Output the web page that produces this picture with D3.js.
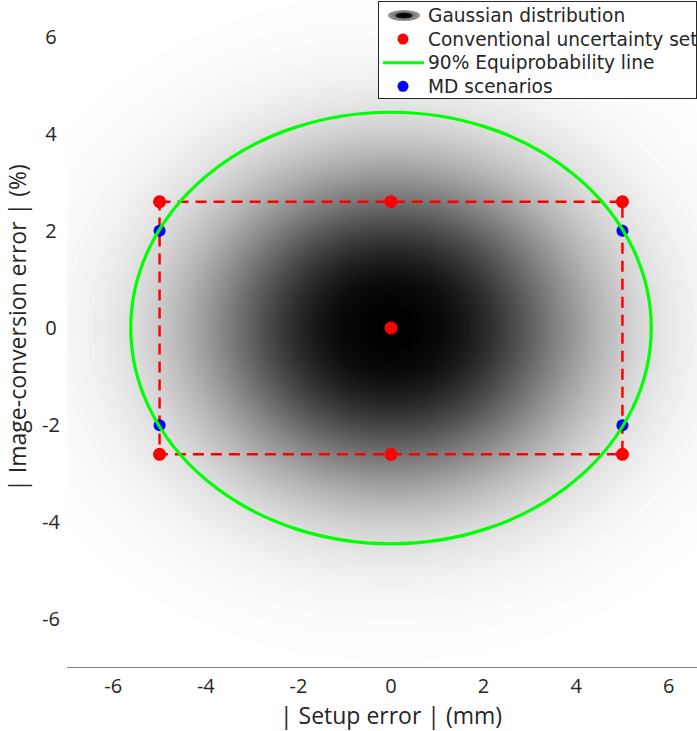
<!DOCTYPE html>
<html>
<head>
<meta charset="utf-8">
<script src="https://d3js.org/d3.v7.min.js"></script>
<style>
  body { margin: 0; background: #fff; }
  text { fill: #262626; }
</style>
</head>
<body>
<div id="chart"></div>
<script>
(function() {
  var width = 697,
      height = 731;

  // data
  var sigma = [2.62, 2.07];            // std dev of setup error (mm), image-conversion error (%)
  var chi2_90 = 4.605;                 // 90% quantile, 2 dof
  var conventional = [[0, 0], [0, 2.6], [0, -2.6], [5, 2.6], [-5, 2.6], [5, -2.6], [-5, -2.6]];
  var rectCorners = [[-5, 2.6], [5, 2.6], [5, -2.6], [-5, -2.6], [-5, 2.6]];
  var mdScenarios = [[5, 2], [-5, 2], [5, -2], [-5, -2]];
  var xTicks = [-6, -4, -2, 0, 2, 4, 6];
  var yTicks = [-6, -4, -2, 0, 2, 4, 6];
  var legendLabels = ["Gaussian distribution", "Conventional uncertainty set", "90% Equiprobability line", "MD scenarios"];

  var x = d3.scaleLinear().domain([-7, 7]).range([67, 715]);
  var y = d3.scaleLinear().domain([-7, 7]).range([668, -12]);

  var svg = d3.select("#chart")
    .append("svg")
    .attr("width", width)
    .attr("height", height);

  var defs = svg.append("defs");
  defs.append("clipPath").attr("id", "plot-clip")
    .append("rect")
      .attr("x", x(-7)).attr("y", 0)
      .attr("width", x(7) - x(-7)).attr("height", y(-7));

  // gaussian density on a grid, drawn as filled contours
  var step = 0.05, g0 = -7, n = Math.round(14 / step) + 1;
  var values = new Array(n * n);
  for (var j = 0; j < n; j++) {
    for (var i = 0; i < n; i++) {
      var gx = g0 + i * step, gy = g0 + j * step;
      values[j * n + i] = Math.exp(-0.5 * ((gx / sigma[0]) * (gx / sigma[0]) + (gy / sigma[1]) * (gy / sigma[1])));
    }
  }
  var thresholds = d3.range(1 / 255, 1, 1 / 200);
  var contours = d3.contours().size([n, n]).thresholds(thresholds)(values);
  // grey map, a bit darker in the mid tones than a straight ramp
  var gray = function(v) {
    var g = Math.round(255 * Math.pow(1 - v, 1.35));
    return d3.rgb(g, g, g);
  };
  var proj = d3.geoPath(d3.geoTransform({
    point: function(px, py) {
      this.stream.point(x(g0 + (px - 0.5) * step), y(g0 + (py - 0.5) * step));
    }
  }));

  var plot = svg.append("g").attr("clip-path", "url(#plot-clip)");
  plot.selectAll(".band")
    .data(contours)
    .enter().append("path")
    .attr("class", "band")
    .attr("d", proj)
    .attr("fill", function(d) { return gray(d.value); })
    .attr("stroke", "none");

  // conventional uncertainty set rectangle
  plot.append("path")
    .datum(rectCorners)
    .attr("d", d3.line().x(function(d) { return x(d[0]); }).y(function(d) { return y(d[1]); }))
    .attr("fill", "none")
    .attr("stroke", "#ff0000")
    .attr("stroke-width", 2.5)
    .attr("stroke-dasharray", "11,7");

  plot.selectAll(".conv")
    .data(conventional)
    .enter().append("circle")
    .attr("class", "conv")
    .attr("cx", function(d) { return x(d[0]); })
    .attr("cy", function(d) { return y(d[1]); })
    .attr("r", 6.5)
    .attr("fill", "#ff0000");

  plot.selectAll(".md")
    .data(mdScenarios)
    .enter().append("circle")
    .attr("class", "md")
    .attr("cx", function(d) { return x(d[0]); })
    .attr("cy", function(d) { return y(d[1]); })
    .attr("r", 6)
    .attr("fill", "#0000ff");

  // 90% equiprobability ellipse
  var k = Math.sqrt(chi2_90);
  plot.append("ellipse")
    .attr("cx", x(0))
    .attr("cy", y(0))
    .attr("rx", x(k * sigma[0]) - x(0))
    .attr("ry", y(0) - y(k * sigma[1]))
    .attr("fill", "none")
    .attr("stroke", "#00ff00")
    .attr("stroke-width", 3.2);

  // axes
  svg.append("line")
    .attr("x1", x(-7)).attr("x2", width)
    .attr("y1", 667.5).attr("y2", 667.5)
    .attr("stroke", "#808080")
    .attr("stroke-width", 1);

  svg.selectAll(".xtick")
    .data(xTicks)
    .enter().append("text")
    .attr("class", "xtick")
    .attr("x", function(d) { return x(d); })
    .attr("y", 686)
    .attr("dy", "0.35em")
    .attr("text-anchor", "middle")
    .style("font-family", "Open Sans")
    .style("font-size", "20px")
    .text(function(d) { return d; });

  svg.selectAll(".ytick")
    .data(yTicks)
    .enter().append("text")
    .attr("class", "ytick")
    .attr("x", 51)
    .attr("y", function(d) { return y(d); })
    .attr("dy", "0.35em")
    .attr("text-anchor", "middle")
    .style("font-family", "Open Sans")
    .style("font-size", "20px")
    .text(function(d) { return d; });

  svg.append("text")
    .attr("x", x(0))
    .attr("y", 716)
    .attr("dy", "0.35em")
    .attr("text-anchor", "middle")
    .style("font-family", "Open Sans")
    .style("font-size", "23px")
    .text("| Setup error | (mm)");

  svg.append("text")
    .attr("transform", "translate(18," + y(0) + ")rotate(-90)")
    .attr("dy", "0.35em")
    .attr("text-anchor", "middle")
    .style("font-family", "Open Sans")
    .style("font-size", "23px")
    .text("| Image-conversion error | (%)");

  // legend
  var grad = defs.append("radialGradient").attr("id", "leg-gauss");
  grad.append("stop").attr("offset", "0%").attr("stop-color", "#000");
  grad.append("stop").attr("offset", "45%").attr("stop-color", "#111");
  grad.append("stop").attr("offset", "60%").attr("stop-color", "#777");
  grad.append("stop").attr("offset", "100%").attr("stop-color", "#999");

  var legend = svg.append("g");
  legend.append("rect")
    .attr("x", 378.5).attr("y", 1.5)
    .attr("width", 318).attr("height", 97)
    .attr("fill", "#fff")
    .attr("stroke", "#262626")
    .attr("stroke-width", 1);

  var rowY = function(i) { return 15.5 + i * 23.6; };

  legend.append("ellipse")
    .attr("cx", 404).attr("cy", rowY(0))
    .attr("rx", 16).attr("ry", 5.5)
    .attr("fill", "url(#leg-gauss)");
  legend.append("circle")
    .attr("cx", 403).attr("cy", rowY(1)).attr("r", 5.5).attr("fill", "#ff0000");
  legend.append("line")
    .attr("x1", 383).attr("x2", 424)
    .attr("y1", rowY(2)).attr("y2", rowY(2))
    .attr("stroke", "#00ff00").attr("stroke-width", 3);
  legend.append("circle")
    .attr("cx", 403).attr("cy", rowY(3)).attr("r", 5.5).attr("fill", "#0000ff");

  legend.selectAll(".leg-text")
    .data(legendLabels)
    .enter().append("text")
    .attr("class", "leg-text")
    .attr("x", 428)
    .attr("y", function(d, i) { return rowY(i); })
    .attr("dy", "0.35em")
    .style("font-family", "DejaVu Sans")
    .style("font-size", "18.6px")
    .text(function(d) { return d; });
})();
</script>
</body>
</html>
